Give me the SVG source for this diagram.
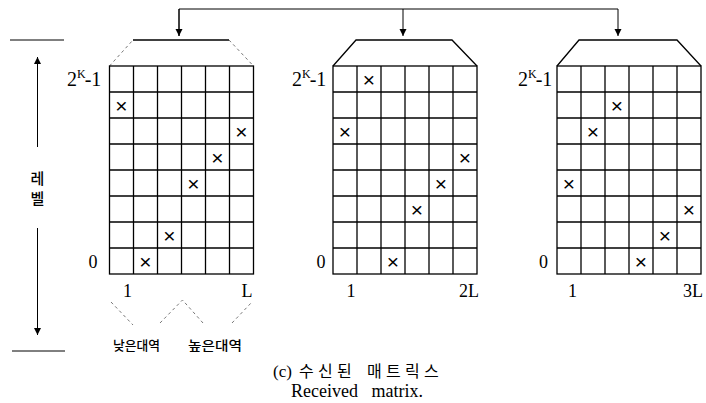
<svg xmlns="http://www.w3.org/2000/svg" width="706" height="403" viewBox="0 0 706 403">
  <defs>
    <style>
      .ln { stroke: #000; stroke-width: 1.3; fill: none; }
      .thin { stroke: #000; stroke-width: 1; fill: none; }
      .dash { stroke: #555; stroke-width: 0.8; fill: none; stroke-dasharray: 3 3; }
      .grid line, .grid rect { stroke: #000; stroke-width: 1.3; fill: none; }
      .serif { font-family: "Liberation Serif", "Times New Roman", serif; fill: #000; }
      .num { font-family: "Liberation Serif", "Times New Roman", serif; font-size: 18px; fill: #000; text-anchor: middle; }
      .kr { font-family: "Noto Sans CJK KR", "Noto Sans", sans-serif; fill: #000; }
      .xm { font-family: "Liberation Sans", Arial, sans-serif; font-size: 21px; fill: #000; text-anchor: middle; dominant-baseline: central; }
    </style>
    <marker id="ah" viewBox="0 0 10 10" refX="10" refY="5" markerWidth="7" markerHeight="8" markerUnits="userSpaceOnUse" orient="auto">
      <path d="M0,0 L10,5 L0,10 Z" fill="#000"/>
    </marker>
    <g id="grid" class="grid">
      <rect x="0" y="0" width="144" height="208"/>
      <line x1="24" y1="0" x2="24" y2="208"/>
      <line x1="48" y1="0" x2="48" y2="208"/>
      <line x1="72" y1="0" x2="72" y2="208"/>
      <line x1="96" y1="0" x2="96" y2="208"/>
      <line x1="120" y1="0" x2="120" y2="208"/>
      <line x1="0" y1="26" x2="144" y2="26"/>
      <line x1="0" y1="52" x2="144" y2="52"/>
      <line x1="0" y1="78" x2="144" y2="78"/>
      <line x1="0" y1="104" x2="144" y2="104"/>
      <line x1="0" y1="130" x2="144" y2="130"/>
      <line x1="0" y1="156" x2="144" y2="156"/>
      <line x1="0" y1="182" x2="144" y2="182"/>
    </g>
  </defs>

  <rect width="706" height="403" fill="#fff"/>

  <!-- connectors -->
  <g id="connectors">
    <polyline class="thin" points="179,36 179,9 618,9 618,36" marker-end="url(#ah)"/>
    <line class="thin" x1="179" y1="9" x2="179" y2="36" marker-end="url(#ah)"/>
    <line class="thin" x1="403" y1="9" x2="403" y2="36" marker-end="url(#ah)"/>
    <!-- level axis -->
    <line class="thin" x1="10" y1="40" x2="64" y2="40"/>
    <line class="thin" x1="12" y1="351" x2="65" y2="351"/>
    <line class="thin" x1="37.5" y1="147" x2="37.5" y2="57" marker-end="url(#ah)"/>
    <line class="thin" x1="37.5" y1="228" x2="37.5" y2="335" marker-end="url(#ah)"/>
    <!-- band brackets under first matrix -->
    <polyline class="dash" points="111,302 133,325"/>
    <polyline class="dash" points="160,323 182.5,300 203,323"/>
    <polyline class="dash" points="232,323 252,302"/>
  </g>

  <!-- level label -->
  <g id="level-label">
    <text class="kr" x="37.5" y="184" font-size="15" font-weight="500" text-anchor="middle">레</text>
    <text class="kr" x="37.5" y="204" font-size="15" font-weight="500" text-anchor="middle">벨</text>
  </g>

  <!-- matrix 1 -->
  <g id="matrix-1">
    <polyline class="dash" points="109.5,66 133,40"/>
    <polyline class="dash" points="229,40 253.5,66"/>
    <line class="ln" x1="133" y1="40" x2="229" y2="40"/>
    <use href="#grid" transform="translate(109.5,66)"/>
    <text class="serif" x="67" y="86" font-size="20">2<tspan font-size="12" dy="-8">K</tspan><tspan dy="8" dx="-1">-1</tspan></text>
    <text class="num" x="93" y="268">0</text>
    <text class="num" x="127.5" y="297">1</text>
    <text class="num" x="247" y="297">L</text>
    <text class="xm" x="121.5" y="105">×</text>
    <text class="xm" x="241.5" y="131">×</text>
    <text class="xm" x="217.5" y="157">×</text>
    <text class="xm" x="193.5" y="183">×</text>
    <text class="xm" x="169.5" y="235">×</text>
    <text class="xm" x="145.5" y="261">×</text>
    <text class="kr" x="113" y="350" font-size="13" font-weight="500" textLength="47" lengthAdjust="spacingAndGlyphs">낮은대역</text>
    <text class="kr" x="188" y="350" font-size="13" font-weight="500" textLength="54" lengthAdjust="spacingAndGlyphs">높은대역</text>
  </g>

  <!-- matrix 2 -->
  <g id="matrix-2">
    <polyline class="ln" points="333,66 356,40 452,40 477,66"/>
    <use href="#grid" transform="translate(333,66)"/>
    <text class="serif" x="292" y="86" font-size="20">2<tspan font-size="12" dy="-8">K</tspan><tspan dy="8" dx="-1">-1</tspan></text>
    <text class="num" x="321" y="268">0</text>
    <text class="num" x="351" y="297">1</text>
    <text class="num" x="469" y="297">2L</text>
    <text class="xm" x="369" y="79">×</text>
    <text class="xm" x="345" y="131">×</text>
    <text class="xm" x="465" y="157">×</text>
    <text class="xm" x="441" y="183">×</text>
    <text class="xm" x="417" y="209">×</text>
    <text class="xm" x="393" y="261">×</text>
  </g>

  <!-- matrix 3 -->
  <g id="matrix-3">
    <polyline class="ln" points="557,66 579,40 677,40 701,66"/>
    <use href="#grid" transform="translate(557,66)"/>
    <text class="serif" x="518" y="86" font-size="20">2<tspan font-size="12" dy="-8">K</tspan><tspan dy="8" dx="-1">-1</tspan></text>
    <text class="num" x="543.5" y="268">0</text>
    <text class="num" x="572.5" y="297">1</text>
    <text class="num" x="693" y="297">3L</text>
    <text class="xm" x="617" y="105">×</text>
    <text class="xm" x="593" y="131">×</text>
    <text class="xm" x="569" y="183">×</text>
    <text class="xm" x="689" y="209">×</text>
    <text class="xm" x="665" y="235">×</text>
    <text class="xm" x="641" y="261">×</text>
  </g>

  <!-- caption -->
  <g id="caption">
    <text class="serif" x="273" y="377" font-size="17">(c)</text>
    <text class="kr" font-size="16" y="377" x="299 318 337 352 367 386 405 424">수신된 매트릭스</text>
    <text class="serif" x="291" y="397" font-size="18" word-spacing="9">Received matrix.</text>
  </g>
</svg>
